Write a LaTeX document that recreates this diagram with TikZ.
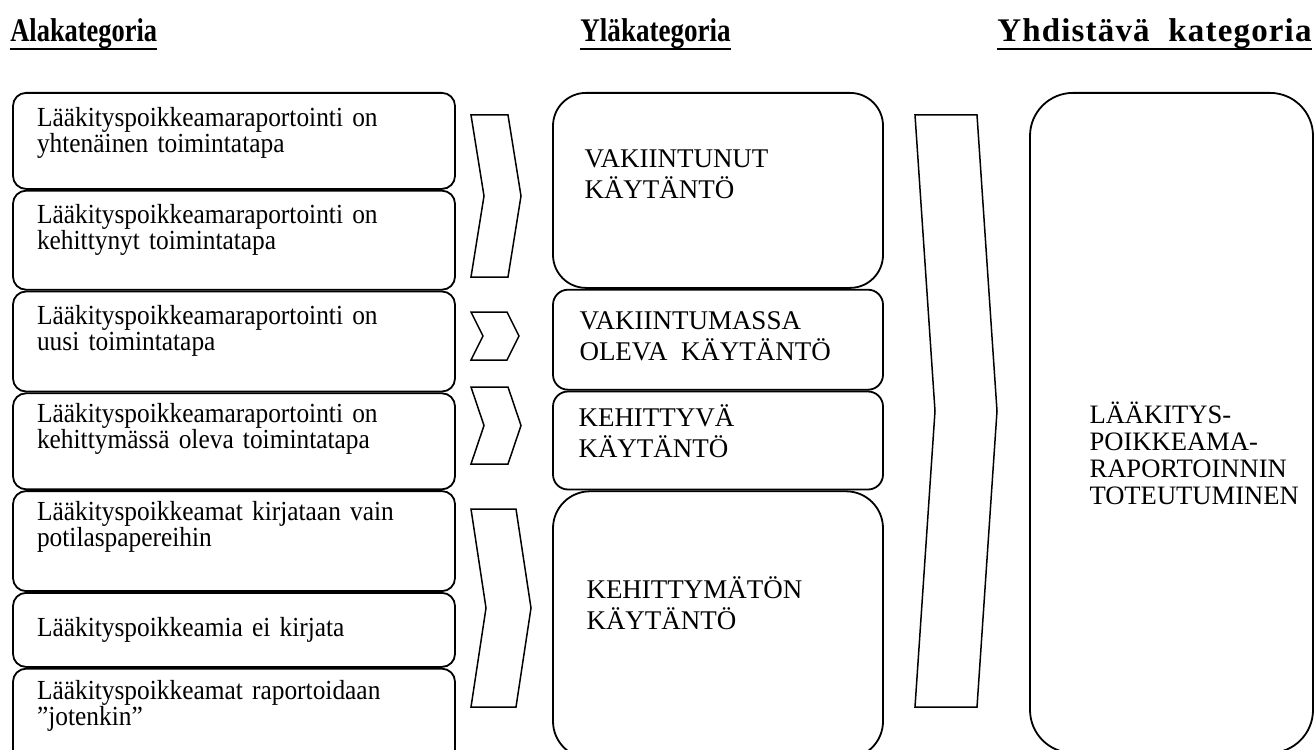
\documentclass[tikz,border=0pt]{standalone}
\usepackage{fontspec}
\setmainfont{Liberation Serif}
\usetikzlibrary{positioning}

\begin{document}
\begin{tikzpicture}[
        x=0.5pt, y=-0.5pt,
        head/.style={inner sep=0pt, anchor=base west, font=\bfseries\fontsize{16.5}{19}\selectfont},
        uline/.style={line width=1.35pt},
        sub/.style={draw, line width=0.9pt, rounded corners=6.5pt, minimum width=221pt, inner xsep=12pt, text width=197pt, align=left, font=\fontsize{13.8}{13}\selectfont\addfontfeatures{FakeStretch=0.92}},
        lift/.style={execute at end node={\endgraf\vspace*{#1}}},
        upper/.style={draw, line width=0.9pt, minimum width=165pt, inner sep=0pt},
        whole/.style={draw, line width=0.9pt, rounded corners=21.5pt, minimum width=141.5pt, minimum height=330pt, inner sep=0pt},
        caps/.style={inner sep=0pt, anchor=north west, align=left, font=\fontsize{13.5}{15.5}\selectfont},
        chev/.style={draw, line width=0.75pt}
    ]
    \useasboundingbox (0,0) rectangle (1316,749);

    % headings
    \node[head] (hsub) at (10,42) {\addfontfeatures{FakeStretch=0.8}Alakategoria};
    \node[head] (hup) at (580,42) {\addfontfeatures{FakeStretch=0.82}Yläkategoria};
    \node[head] (hall) at (997,42) {\addfontfeatures{LetterSpace=3.5}Yhdistävä\ \ kategoria};
    \foreach \h in {hsub,hup,hall}
        \draw[uline] ([yshift=-3.5pt]\h.base west) -- ([yshift=-3.5pt]\h.base east);

    % sub categories
    \node[sub, lift=8pt, minimum height=48pt, anchor=north] (s1) at (234,92) {Lääkityspoikkeamaraportointi on\\yhtenäinen toimintatapa};
    \node[sub, lift=10pt, minimum height=49.5pt, below=0pt of s1] (s2) {Lääkityspoikkeamaraportointi on\\kehittynyt toimintatapa};
    \node[sub, lift=11pt, minimum height=50pt, below=0pt of s2] (s3) {Lääkityspoikkeamaraportointi on\\uusi toimintatapa};
    \node[sub, lift=12pt, minimum height=48pt, below=0pt of s3] (s4) {Lääkityspoikkeamaraportointi on\\kehittymässä oleva toimintatapa};
    \node[sub, lift=14pt, minimum height=50pt, below=0pt of s4] (s5) {Lääkityspoikkeamat kirjataan vain\\potilaspapereihin};
    \node[sub, minimum height=37pt, below=0pt of s5] (s6) {Lääkityspoikkeamia ei kirjata};
    \node[sub, lift=11pt, minimum height=48pt, below=0pt of s6] (s7) {Lääkityspoikkeamat raportoidaan\\”jotenkin”};

    % upper categories
    \node[upper, rounded corners=16.5pt, minimum height=97.5pt, anchor=north] (u1) at (718,92) {};
    \node[upper, rounded corners=7.5pt, minimum height=50pt, below=0pt of u1] (u2) {};
    \node[upper, rounded corners=7.5pt, minimum height=49pt, below=0pt of u2] (u3) {};
    \node[upper, rounded corners=18.5pt, minimum height=133.5pt, below=0pt of u3] (u4) {};
    \node[caps] (t1) at ([xshift=16pt, yshift=-28.5pt]u1.north west) {VAKIINTUNUT\\KÄYTÄNTÖ};
    \node[caps] (t2) at ([xshift=13.5pt, yshift=-11pt]u2.north west) {VAKIINTUMASSA\\OLEVA\ \ KÄYTÄNTÖ};
    \node[caps] (t3) at ([xshift=13pt, yshift=-7pt]u3.north west) {KEHITTYVÄ\\KÄYTÄNTÖ};
    \node[caps] (t4) at ([xshift=17pt, yshift=-43pt]u4.north west) {KEHITTYMÄTÖN\\KÄYTÄNTÖ};

    % joining category
    \node[whole, anchor=north] (w) at (1171.5,92) {};
    \node[caps, font=\fontsize{13.3}{13.5}\selectfont] (tw) at ([xshift=30pt, yshift=-155pt]w.north west) {LÄÄKITYS-\\POIKKEAMA-\\RAPORTOINNIN\\TOTEUTUMINEN};

    % chevrons
    \foreach \xl/\yt/\yb/\w/\d in {471/115/277/37/13, 471/312/360/36/12, 471/387/464/37/13, 471/509/707/45/15, 915/115/707/62/20}
        \draw[chev] (\xl,\yt) -- ++(\w,0) -- ({\xl+\w+\d},{(\yt+\yb)/2}) -- ({\xl+\w},\yb) -- (\xl,\yb) -- ({\xl+\d},{(\yt+\yb)/2}) -- cycle;
\end{tikzpicture}
\end{document}
